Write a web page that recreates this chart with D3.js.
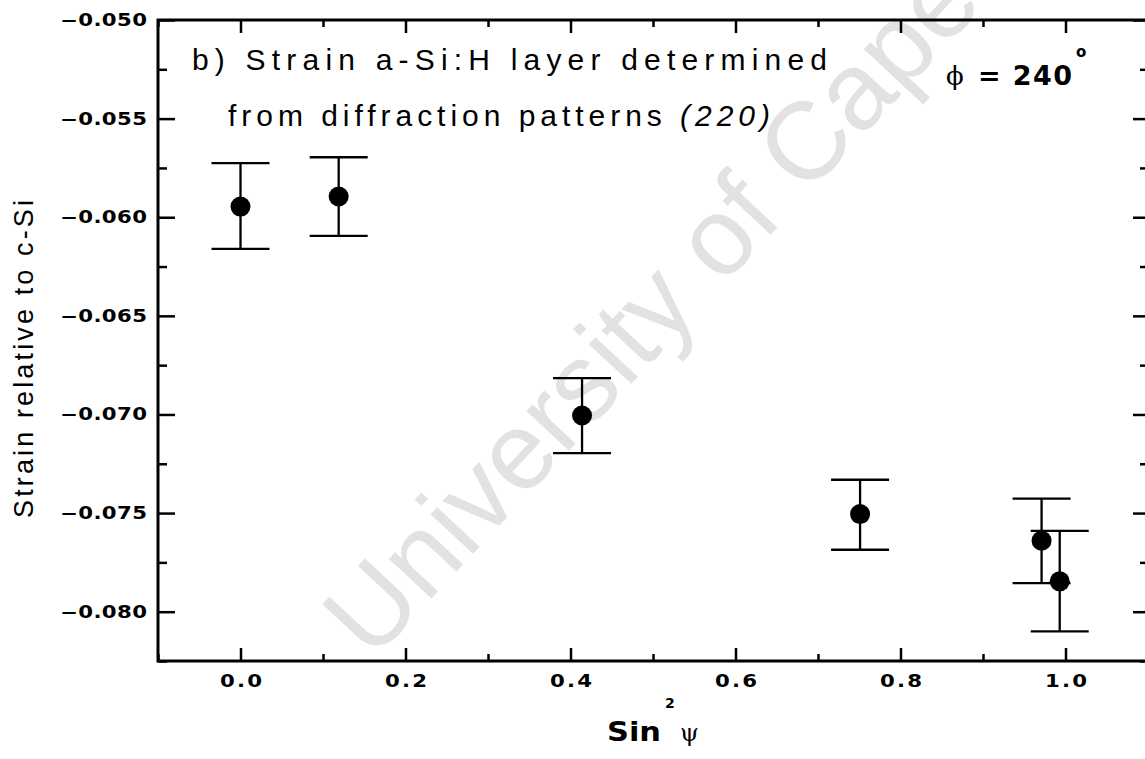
<!DOCTYPE html>
<meta charset="utf-8">
<style>
  body { margin: 0; background: #ffffff; overflow: hidden; }
  text { font-family: "Liberation Sans", Arial, sans-serif; }
  .heavy { font-family: "DejaVu Sans", sans-serif; font-weight: bold; }
</style>
<div id="chart"></div>
<script src="https://cdn.jsdelivr.net/npm/d3@7"></script>
<script>

// data
var sin2psi = [0.000, 0.119, 0.414, 0.751, 0.971, 0.993];
var strain  = [-0.05946, -0.05895, -0.07005, -0.07505, -0.07640, -0.07846];
var errTop  = [-0.05726, -0.05696, -0.06816, -0.07331, -0.07427, -0.07590];
var errBot  = [-0.06160, -0.06095, -0.07196, -0.07686, -0.07855, -0.08100];

var xTicks = [0.0, 0.2, 0.4, 0.6, 0.8, 1.0];
var xMinor = [-0.1, 0.1, 0.3, 0.5, 0.7, 0.9, 1.1];
var yTicks = [-0.050, -0.055, -0.060, -0.065, -0.070, -0.075, -0.080];
var yMinor = [-0.0525, -0.0575, -0.0625, -0.0675, -0.0725, -0.0775, -0.0825];

var W = 1145, H = 759;
var pLeft = 158, pRight = 1148, pTop = 20, pBottom = 661;
var wide = 1.25;   // tick labels are set in a wide, heavy face

var svg = d3.select("#chart").append("svg")
  .attr("width", W).attr("height", H)
  .style("background", "#fff");

// watermark
svg.append("text")
  .attr("transform", "translate(372,662) rotate(-47)")
  .style("font-size", "110px")
  .style("fill", "#e2e2e2")
  .text("University of Cape Town");

var x = d3.scaleLinear().domain([-0.1, 1.1]).range([pLeft, pRight]);
var y = d3.scaleLinear().domain([-0.0825, -0.050]).range([pBottom, pTop]);

function styleAxis(g) {
  g.select(".domain").remove();
  g.selectAll(".tick line").attr("stroke", "#000").attr("stroke-width", 2.5);
}

// bottom axis (ticks inward)
svg.append("g")
  .attr("transform", "translate(0," + pBottom + ")")
  .call(d3.axisBottom(x).tickValues(xTicks).tickSize(-13).tickPadding(14)
    .tickFormat(d3.format(".1f")))
  .call(styleAxis)
  .selectAll("text")
    .attr("class", "heavy")
    .attr("fill", "#000")
    .attr("transform", "scale(" + wide + ",1)")
    .attr("textLength", 42 / wide).attr("lengthAdjust", "spacing")
    .style("font-size", "17px");
svg.append("g")
  .attr("transform", "translate(0," + pBottom + ")")
  .call(d3.axisBottom(x).tickValues(xMinor).tickSize(-7).tickFormat(""))
  .call(styleAxis);

// top axis
svg.append("g")
  .attr("transform", "translate(0," + pTop + ")")
  .call(d3.axisTop(x).tickValues(xTicks).tickSize(-13).tickFormat(""))
  .call(styleAxis);
svg.append("g")
  .attr("transform", "translate(0," + pTop + ")")
  .call(d3.axisTop(x).tickValues(xMinor).tickSize(-7).tickFormat(""))
  .call(styleAxis);

// left axis
svg.append("g")
  .attr("transform", "translate(" + pLeft + ",0)")
  .call(d3.axisLeft(y).tickValues(yTicks).tickSize(-17).tickPadding(11)
    .tickFormat(d3.format(".3f")))
  .call(styleAxis)
  .selectAll("text")
    .attr("class", "heavy")
    .attr("fill", "#000")
    .attr("transform", "scale(" + wide + ",1)")
    .attr("x", -11 / wide)
    .attr("textLength", 87 / wide).attr("lengthAdjust", "spacing")
    .style("font-size", "17px");
svg.append("g")
  .attr("transform", "translate(" + pLeft + ",0)")
  .call(d3.axisLeft(y).tickValues(yMinor).tickSize(-9).tickFormat(""))
  .call(styleAxis);

// right axis
svg.append("g")
  .attr("transform", "translate(" + pRight + ",0)")
  .call(d3.axisRight(y).tickValues(yTicks).tickSize(-15).tickFormat(""))
  .call(styleAxis);
svg.append("g")
  .attr("transform", "translate(" + pRight + ",0)")
  .call(d3.axisRight(y).tickValues(yMinor).tickSize(-8).tickFormat(""))
  .call(styleAxis);

// frame
svg.append("rect")
  .attr("x", pLeft).attr("y", pTop)
  .attr("width", pRight - pLeft).attr("height", pBottom - pTop)
  .attr("fill", "none").attr("stroke", "#000").attr("stroke-width", 3);

// error bars + points
var pts = sin2psi.map(function(d, i) {
  return {x: d, y: strain[i], hi: errTop[i], lo: errBot[i]};
});
var cap = 29;
var eb = svg.append("g").attr("stroke", "#000").attr("stroke-width", 2.3);
eb.selectAll(".stem").data(pts).enter().append("line")
  .attr("x1", function(d) { return x(d.x); }).attr("x2", function(d) { return x(d.x); })
  .attr("y1", function(d) { return y(d.hi); }).attr("y2", function(d) { return y(d.lo); });
eb.selectAll(".capT").data(pts).enter().append("line")
  .attr("x1", function(d) { return x(d.x) - cap; }).attr("x2", function(d) { return x(d.x) + cap; })
  .attr("y1", function(d) { return y(d.hi); }).attr("y2", function(d) { return y(d.hi); });
eb.selectAll(".capB").data(pts).enter().append("line")
  .attr("x1", function(d) { return x(d.x) - cap; }).attr("x2", function(d) { return x(d.x) + cap; })
  .attr("y1", function(d) { return y(d.lo); }).attr("y2", function(d) { return y(d.lo); });

svg.append("g").selectAll("circle").data(pts).enter().append("circle")
  .attr("cx", function(d) { return x(d.x); })
  .attr("cy", function(d) { return y(d.y); })
  .attr("r", 10)
  .attr("fill", "#000");

// title inside the plot
svg.append("text")
  .attr("x", 192).attr("y", 70)
  .attr("textLength", 635).attr("lengthAdjust", "spacing")
  .style("font-size", "30px").attr("fill", "#000")
  .text("b) Strain a-Si:H layer determined");
var t2 = svg.append("text")
  .attr("x", 228).attr("y", 126)
  .attr("textLength", 542).attr("lengthAdjust", "spacing")
  .style("font-size", "30px").attr("fill", "#000");
t2.append("tspan").text("from diffraction patterns ");
t2.append("tspan").style("font-style", "italic").text("(220)");

// phi label
svg.append("text").attr("x", 946).attr("y", 85)
  .style("font-size", "26px").style("font-family", "DejaVu Serif").text("\u03d5");
svg.append("text").attr("class", "heavy").attr("x", 978).attr("y", 85)
  .attr("textLength", 94).attr("lengthAdjust", "spacing")
  .style("font-size", "27px")
  .text("= 240");
svg.append("text").attr("class", "heavy").attr("x", 1076).attr("y", 57)
  .style("font-size", "15px").text("o");

// y label
svg.append("text")
  .attr("transform", "translate(33,359) rotate(-90)")
  .attr("text-anchor", "middle")
  .attr("textLength", 318).attr("lengthAdjust", "spacing")
  .style("font-size", "27px").attr("fill", "#000")
  .text("Strain relative to c-Si");

// x label
svg.append("text").attr("class", "heavy").attr("x", 607).attr("y", 741)
  .attr("textLength", 54).attr("lengthAdjust", "spacingAndGlyphs")
  .style("font-size", "26px")
  .text("Sin");
svg.append("text").attr("class", "heavy").attr("x", 665).attr("y", 708)
  .style("font-size", "14px").text("2");
svg.append("text").attr("x", 680).attr("y", 741)
  .style("font-size", "24px").style("font-family", "DejaVu Serif").text("\u03c8");

</script>
